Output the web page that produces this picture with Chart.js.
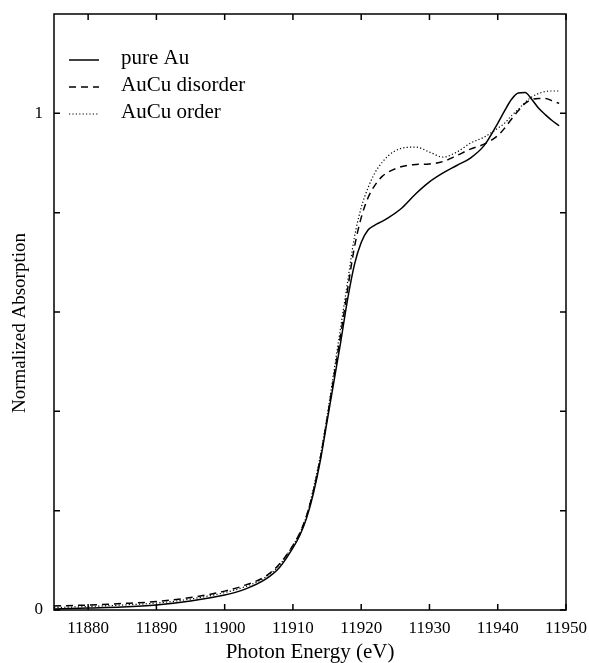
<!DOCTYPE html>
<html>
<head>
<meta charset="utf-8">
<script src="https://cdn.jsdelivr.net/npm/chart.js@4/dist/chart.umd.min.js"></script>
<style>
  html, body { margin: 0; padding: 0; background: #fff; }
  #wrap { width: 589px; height: 663px; }
</style>
</head>
<body>
<div id="wrap"><canvas id="xanes"></canvas></div>
<script>
// Au L3-edge XANES, normalized
const energy = [11875, 11880, 11885, 11890, 11895, 11900, 11903, 11906, 11908, 11910,
    11911, 11912, 11913, 11914, 11915, 11916, 11917, 11918, 11919, 11920,
    11921, 11922, 11923, 11924, 11926, 11928, 11930, 11932, 11934, 11936,
    11938, 11940, 11941, 11942, 11943, 11944, 11945, 11946, 11947, 11948, 11949];

const pureAu = [0.002, 0.004, 0.006, 0.010, 0.018, 0.030, 0.042, 0.062, 0.085, 0.125,
    0.150, 0.185, 0.235, 0.300, 0.380, 0.460, 0.540, 0.625, 0.695, 0.740,
    0.765, 0.775, 0.782, 0.790, 0.810, 0.838, 0.862, 0.880, 0.895, 0.910,
    0.935, 0.980, 1.005, 1.028, 1.041, 1.042, 1.028, 1.010, 0.997, 0.985, 0.975];

const auCuDisorder = [0.008, 0.010, 0.013, 0.017, 0.025, 0.038, 0.050, 0.068, 0.092, 0.130,
    0.155, 0.190, 0.240, 0.305, 0.385, 0.470, 0.555, 0.645, 0.730, 0.790,
    0.830, 0.855, 0.872, 0.882, 0.893, 0.897, 0.898, 0.903, 0.915, 0.928,
    0.938, 0.955, 0.970, 0.988, 1.005, 1.020, 1.028, 1.030, 1.030, 1.025, 1.020];

const auCuOrder = [0.005, 0.007, 0.010, 0.014, 0.022, 0.035, 0.047, 0.066, 0.090, 0.130,
    0.155, 0.190, 0.245, 0.310, 0.390, 0.480, 0.570, 0.660, 0.750, 0.810,
    0.850, 0.880, 0.900, 0.915, 0.930, 0.932, 0.922, 0.912, 0.922, 0.940,
    0.952, 0.970, 0.980, 0.995, 1.008, 1.022, 1.033, 1.040, 1.044, 1.045, 1.045];

const xTicks = [11880, 11890, 11900, 11910, 11920, 11930, 11940, 11950];
const yTicks = [0, 0.2, 0.4, 0.6, 0.8, 1.0];
const yLabelled = [0, 1];

const serif = '"Liberation Serif", "Times New Roman", serif';

function points(ys) {
    return energy.map((e, i) => ({x: e, y: ys[i]}));
}

// frame with inward ticks on all four sides, the y title and the legend
const framePlugin = {
    id: 'frame',
    afterDatasetsDraw(chart) {
        const {ctx, chartArea: a, scales: {x, y}} = chart;
        const len = 6;
        ctx.save();
        ctx.strokeStyle = '#000';
        ctx.lineWidth = 1.5;
        ctx.strokeRect(a.left, a.top, a.right - a.left, a.bottom - a.top);
        ctx.beginPath();
        xTicks.forEach(v => {
            const px = x.getPixelForValue(v);
            ctx.moveTo(px, a.bottom); ctx.lineTo(px, a.bottom - len);
            ctx.moveTo(px, a.top); ctx.lineTo(px, a.top + len);
        });
        yTicks.forEach(v => {
            const py = y.getPixelForValue(v);
            ctx.moveTo(a.left, py); ctx.lineTo(a.left + len, py);
            ctx.moveTo(a.right, py); ctx.lineTo(a.right - len, py);
        });
        ctx.stroke();

        ctx.fillStyle = '#000';
        ctx.textBaseline = 'middle';

        // y axis title, sits a little below the plot centre
        ctx.save();
        ctx.translate(20, 323);
        ctx.rotate(-Math.PI / 2);
        ctx.textAlign = 'center';
        ctx.font = '19px ' + serif;
        ctx.fillText('Normalized Absorption', 0, 0);
        ctx.restore();

        // legend
        const rowY = [60, 87, 114];
        ctx.font = '21px ' + serif;
        chart.data.datasets.forEach((ds, i) => {
            ctx.beginPath();
            ctx.lineWidth = ds.borderWidth;
            ctx.setLineDash(ds.borderDash || []);
            ctx.moveTo(69, rowY[i]);
            ctx.lineTo(99, rowY[i]);
            ctx.stroke();
            ctx.setLineDash([]);
            ctx.fillText(ds.label, 121, rowY[i] - 2);
        });
        ctx.restore();
    }
};

new Chart(document.getElementById('xanes'), {
    type: 'line',
    data: {
        datasets: [{
            label: 'pure Au',
            data: points(pureAu),
            borderColor: '#000',
            borderWidth: 1.5,
            borderDash: [],
        }, {
            label: 'AuCu disorder',
            data: points(auCuDisorder),
            borderColor: '#000',
            borderWidth: 1.5,
            borderDash: [7, 5],
        }, {
            label: 'AuCu order',
            data: points(auCuOrder),
            borderColor: '#000',
            borderWidth: 1.2,
            borderDash: [1.2, 2.2],
        }]
    },
    options: {
        responsive: true,
        maintainAspectRatio: false,
        animation: false,
        elements: {
            point: {radius: 0},
            line: {cubicInterpolationMode: 'monotone'}
        },
        layout: {
            padding: {left: 0, right: 23, top: 14, bottom: 0}
        },
        plugins: {
            legend: {display: false},
            tooltip: {enabled: false}
        },
        scales: {
            x: {
                type: 'linear',
                min: 11875,
                max: 11950,
                afterBuildTicks: scale => {
                    scale.ticks = xTicks.map(v => ({value: v}));
                },
                afterFit: scale => {
                    scale.height = 53;
                    scale.paddingLeft = 0;
                    scale.paddingRight = 0;
                },
                grid: {display: false, drawTicks: false},
                border: {display: false},
                ticks: {
                    color: '#000',
                    padding: 8,
                    maxRotation: 0,
                    font: {family: serif, size: 17},
                    callback: v => String(v)
                },
                title: {
                    display: true,
                    text: 'Photon Energy (eV)',
                    color: '#000',
                    padding: {top: 0, bottom: 0},
                    font: {family: serif, size: 21, lineHeight: 1}
                }
            },
            y: {
                type: 'linear',
                min: 0,
                max: 1.2,
                afterBuildTicks: scale => {
                    scale.ticks = yTicks.map(v => ({value: v}));
                },
                afterFit: scale => {
                    scale.width = 54;
                    scale.paddingTop = 0;
                    scale.paddingBottom = 0;
                },
                grid: {display: false, drawTicks: false},
                border: {display: false},
                ticks: {
                    color: '#000',
                    padding: 11,
                    font: {family: serif, size: 17},
                    callback: v => yLabelled.includes(Math.round(v * 10) / 10) ? String(Math.round(v)) : ''
                }
            }
        }
    },
    plugins: [framePlugin]
});
</script>
</body>
</html>
